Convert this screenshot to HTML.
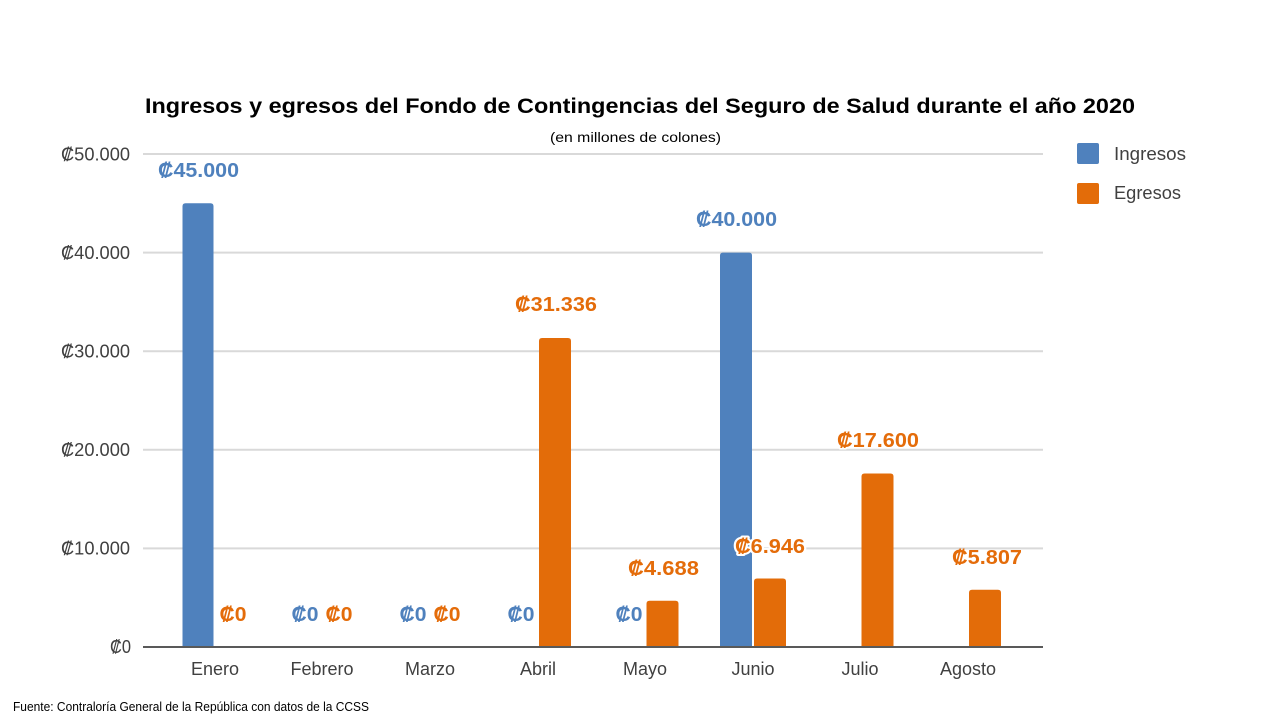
<!DOCTYPE html>
<html>
<head>
<meta charset="utf-8">
<style>
  html, body { margin:0; padding:0; background:#ffffff; }
  svg { display:block; }
  text { font-family: "Liberation Sans", "DejaVu Sans", sans-serif; }
</style>
</head>
<body>
<svg width="1280" height="720" viewBox="0 0 1280 720" xmlns="http://www.w3.org/2000/svg">
  <rect x="0" y="0" width="1280" height="720" fill="#ffffff"/>

  <!-- Title -->
  <text x="145" y="113" font-size="21" font-weight="bold" fill="#000000" textLength="990" lengthAdjust="spacingAndGlyphs">Ingresos y egresos del Fondo de Contingencias del Seguro de Salud durante el año 2020</text>
  <text x="550" y="142" font-size="14" fill="#000000" textLength="171" lengthAdjust="spacingAndGlyphs">(en millones de colones)</text>

  <!-- Gridlines -->
  <g stroke="#d9d9d9" stroke-width="2">
    <line x1="143" y1="154" x2="1043" y2="154"/>
    <line x1="143" y1="252.6" x2="1043" y2="252.6"/>
    <line x1="143" y1="351.2" x2="1043" y2="351.2"/>
    <line x1="143" y1="449.8" x2="1043" y2="449.8"/>
    <line x1="143" y1="548.4" x2="1043" y2="548.4"/>
  </g>

  <!-- Y-axis labels -->
  <g font-size="18" fill="#404040" text-anchor="end">
    <text x="130" y="160.5" textLength="69" lengthAdjust="spacingAndGlyphs">₡50.000</text>
    <text x="130" y="259" textLength="69" lengthAdjust="spacingAndGlyphs">₡40.000</text>
    <text x="130" y="357.5" textLength="69" lengthAdjust="spacingAndGlyphs">₡30.000</text>
    <text x="130" y="456" textLength="69" lengthAdjust="spacingAndGlyphs">₡20.000</text>
    <text x="130" y="554.5" textLength="69" lengthAdjust="spacingAndGlyphs">₡10.000</text>
    <text x="131" y="653" textLength="21" lengthAdjust="spacingAndGlyphs">₡0</text>
  </g>

  <!-- Bars -->
  <g>
    <path d="M182.5,647 L182.5,206.3 Q182.5,203.3 185.5,203.3 L210.5,203.3 Q213.5,203.3 213.5,206.3 L213.5,647 Z" fill="#4f81bd"/>
    <path d="M539,647 L539,341 Q539,338 542,338 L568,338 Q571,338 571,341 L571,647 Z" fill="#e36c09"/>
    <path d="M646.5,647 L646.5,603.8 Q646.5,600.8 649.5,600.8 L675.5,600.8 Q678.5,600.8 678.5,603.8 L678.5,647 Z" fill="#e36c09"/>
    <path d="M720,647 L720,255.6 Q720,252.6 723,252.6 L749,252.6 Q752,252.6 752,255.6 L752,647 Z" fill="#4f81bd"/>
    <path d="M754,647 L754,581.5 Q754,578.5 757,578.5 L783,578.5 Q786,578.5 786,581.5 L786,647 Z" fill="#e36c09"/>
    <path d="M861.5,647 L861.5,476.5 Q861.5,473.5 864.5,473.5 L890.5,473.5 Q893.5,473.5 893.5,476.5 L893.5,647 Z" fill="#e36c09"/>
    <path d="M969,647 L969,592.7 Q969,589.7 972,589.7 L998,589.7 Q1001,589.7 1001,592.7 L1001,647 Z" fill="#e36c09"/>
  </g>

  <!-- Axis -->
  <line x1="143" y1="647" x2="1043" y2="647" stroke="#595959" stroke-width="2"/>

  <!-- Category labels -->
  <g font-size="18" fill="#404040" text-anchor="middle">
    <text x="215" y="675">Enero</text>
    <text x="322" y="675">Febrero</text>
    <text x="430" y="675">Marzo</text>
    <text x="538" y="675">Abril</text>
    <text x="645" y="675">Mayo</text>
    <text x="753" y="675">Junio</text>
    <text x="860" y="675">Julio</text>
    <text x="968" y="675">Agosto</text>
  </g>

  <!-- Data labels: Ingresos -->
  <g font-size="20" font-weight="bold" fill="#4f81bd" text-anchor="middle">
    <text x="198.5" y="177" textLength="81" lengthAdjust="spacingAndGlyphs">₡45.000</text>
    <text x="305" y="621" textLength="27" lengthAdjust="spacingAndGlyphs">₡0</text>
    <text x="413" y="621" textLength="27" lengthAdjust="spacingAndGlyphs">₡0</text>
    <text x="521" y="621" textLength="27" lengthAdjust="spacingAndGlyphs">₡0</text>
    <text x="629" y="621" textLength="27" lengthAdjust="spacingAndGlyphs">₡0</text>
    <text x="736.5" y="226" textLength="81" lengthAdjust="spacingAndGlyphs">₡40.000</text>
  </g>

  <!-- Data labels: Egresos -->
  <g font-size="20" font-weight="bold" fill="#e46c0a" text-anchor="middle">
    <text x="233" y="621" textLength="27" lengthAdjust="spacingAndGlyphs">₡0</text>
    <text x="339" y="621" textLength="27" lengthAdjust="spacingAndGlyphs">₡0</text>
    <text x="447" y="621" textLength="27" lengthAdjust="spacingAndGlyphs">₡0</text>
    <text x="556" y="311" textLength="82" lengthAdjust="spacingAndGlyphs">₡31.336</text>
    <text x="663.5" y="575" textLength="71" lengthAdjust="spacingAndGlyphs">₡4.688</text>
    <text x="770" y="553" textLength="70" lengthAdjust="spacingAndGlyphs" stroke="#ffffff" stroke-width="4" paint-order="stroke" stroke-linejoin="round">₡6.946</text>
    <text x="878" y="447" textLength="82" lengthAdjust="spacingAndGlyphs" stroke="#ffffff" stroke-width="3" paint-order="stroke" stroke-linejoin="round">₡17.600</text>
    <text x="987" y="564" textLength="70" lengthAdjust="spacingAndGlyphs">₡5.807</text>
  </g>

  <!-- Legend -->
  <rect x="1077" y="143" width="22" height="21" rx="2" fill="#4f81bd"/>
  <rect x="1077" y="183" width="22" height="21" rx="2" fill="#e36c09"/>
  <text x="1114" y="160" font-size="18" fill="#404040" textLength="72" lengthAdjust="spacingAndGlyphs">Ingresos</text>
  <text x="1114" y="199" font-size="18" fill="#404040" textLength="67" lengthAdjust="spacingAndGlyphs">Egresos</text>

  <!-- Footer -->
  <text x="13" y="711" font-size="12.5" fill="#000000" textLength="356" lengthAdjust="spacingAndGlyphs">Fuente: Contraloría General de la República con datos de la CCSS</text>
</svg>
</body>
</html>
